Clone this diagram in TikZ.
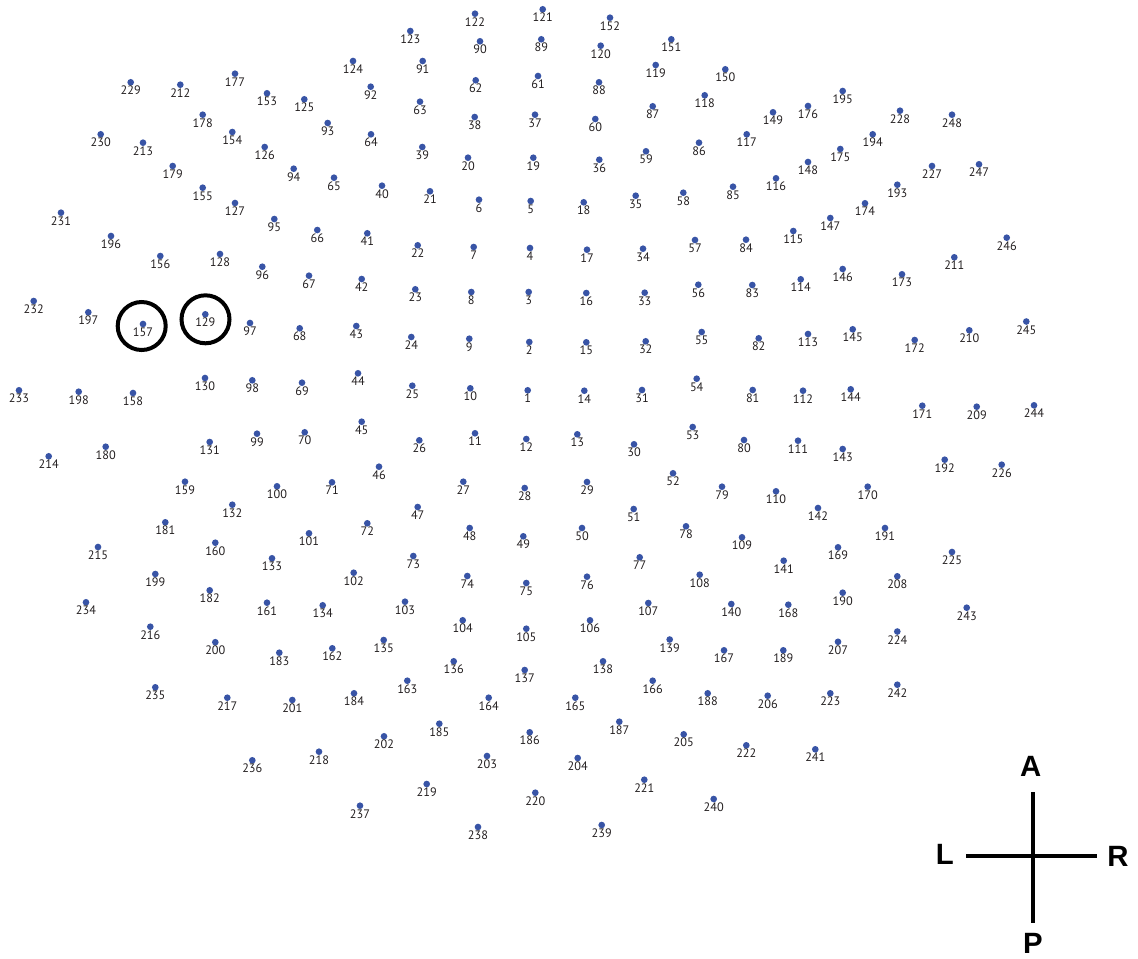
\documentclass[tikz,border=0pt]{standalone}
\usepackage{fontspec}
\newfontfamily\lblfont{PT Sans}
\newfontfamily\axfont{Liberation Sans}
\definecolor{dotblue}{RGB}{56,84,166}
\definecolor{txt}{RGB}{35,31,32}
\begin{document}
\begin{tikzpicture}[x=0.75pt,y=-0.75pt,
  dotnode/.style={circle,fill=dotblue,draw=none,inner sep=0pt,minimum size=5pt},
  lbl/.style={inner sep=0pt,text=txt,font=\lblfont\fontsize{9.2}{10}\selectfont},
  ring/.style={circle,draw=black,line width=3pt,inner sep=0pt,minimum size=36pt},
  axline/.style={line width=3pt,draw=black},
  axlbl/.style={inner sep=0pt,text=black,font=\axfont\bfseries\fontsize{22}{24}\selectfont}]
\useasboundingbox (0,0) rectangle (1138,958);
\foreach \n/\x/\y in {
1/527.7/390.3, 2/529.3/342, 3/528.7/292, 4/530/248, 5/530.7/201, 6/479/199.7, 7/473.7/247, 8/471.3/292, 9/469.3/338.7, 10/470.3/388.3,
11/475/433.3, 12/526.3/439, 13/577.3/434.3, 14/584.3/390.7, 15/586.3/342.3, 16/586.3/293, 17/587/249.7, 18/583.7/202.3, 19/533.3/157.7, 20/468/157.7,
21/430/191.3, 22/417.7/245.3, 23/415.3/289.3, 24/411.3/337, 25/412.3/385.7, 26/419.3/440.3, 27/463.3/481.7, 28/524.7/488, 29/587/482, 30/634/444.3,
31/642/390, 32/645.7/341.3, 33/644.7/292.7, 34/643/248.7, 35/635.7/195.7, 36/599.3/159.7, 37/535/114.7, 38/474.7/117, 39/422.3/147, 40/382/185.7,
41/367.3/233.3, 42/361.7/279, 43/356.3/326, 44/358/373.3, 45/361.7/421.7, 46/379/466.7, 47/417.7/507, 48/469.7/528, 49/523.3/536.3, 50/582/528,
51/633.7/509, 52/673/473.3, 53/692.7/427, 54/696.7/378.7, 55/701.7/332, 56/698.3/284.7, 57/695/240, 58/683.3/192.7, 59/646/151.3, 60/595.3/119,
61/538/76, 62/475.7/80.3, 63/420/101.7, 64/371/134.3, 65/334/177.7, 66/317.3/230, 67/309/275.7, 68/299.7/328.3, 69/302/382.7, 70/304.7/432.3,
71/332/482.3, 72/367.3/523.3, 73/413.3/556, 74/467.3/576, 75/526.3/583, 76/587/576.7, 77/639.7/557.3, 78/686/526.3, 79/722/486.7, 80/744/440,
81/752.7/390, 82/758.7/338.3, 83/752.3/285, 84/746/239.7, 85/733/186.7, 86/699/142.7, 87/652.7/106.3, 88/599/82.3, 89/541.3/39.3, 90/480/41.3,
91/422.7/61, 92/370.7/86.7, 93/327.7/123, 94/293.7/168.7, 95/274.3/219, 96/262.3/266.7, 97/250/323, 98/252.3/380.3, 99/257/433.7, 100/277/486.3,
101/309/533.3, 102/353.7/572.7, 103/405/601.7, 104/462.7/620.3, 105/526.3/628.7, 106/590/620.3, 107/648.3/603, 108/699.7/574.7, 109/742/537.3, 110/776/491.3,
111/798/440.7, 112/803/390.7, 113/808/334, 114/800.7/279.3, 115/793.3/231, 116/776/178.3, 117/746.7/134.3, 118/704.7/95.3, 119/655.7/65, 120/600.7/45.7,
121/542.7/9.3, 122/475/13.7, 123/410.3/31, 124/353/61, 125/304.3/99.3, 126/264.7/147, 127/235/203, 128/220/254, 129/205.3/314.3, 130/205/378,
131/209.7/442, 132/232.3/504.7, 133/272/558.3, 134/322.7/605.3, 135/383.7/640, 136/453.7/661.3, 137/524.7/670, 138/603/661.3, 139/669.7/639.5, 140/731.3/604,
141/783.7/560.7, 142/818/508, 143/842.7/449, 144/850.7/389.3, 145/852.7/329.3, 146/842.7/269, 147/830.3/218, 148/808/162, 149/773/112.3, 150/725.3/69.3,
151/671.3/39.3, 152/610/17.7, 153/267/93.3, 154/232.3/132, 155/202.7/187.7, 156/160.3/256, 157/143/324, 158/133/393, 159/185/481.7, 160/215.3/542.7,
161/267/602.7, 162/332.3/648.3, 163/407.3/680.7, 164/488.7/697.7, 165/575.3/697.7, 166/652.7/680.7, 167/724/650.3, 168/788.3/604.7, 169/838/547.3, 170/867.7/486.7,
171/922.3/405.7, 172/914.7/340, 173/902/274.3, 174/865/203.3, 175/840.3/149, 176/808/106, 177/235/73.7, 178/202.7/114.7, 179/172.7/166, 180/105.7/446.7,
181/165.3/522.3, 182/209.7/590.3, 183/279.3/652.7, 184/354/693.3, 185/439.3/723.7, 186/529.7/732.3, 187/619.3/721.7, 188/707.7/693.3, 189/783.3/650.3, 190/842.7/592.7,
191/885/528, 192/944.7/459.7, 193/897.3/184.7, 194/872.7/134.3, 195/842.7/91, 196/111/236, 197/88.3/312.3, 198/78.7/391.7, 199/155.3/574, 200/215.3/642.2,
201/292.3/700, 202/384/736.3, 203/487/756, 204/577.7/758, 205/683.7/734.3, 206/767.7/695.7, 207/838/641.8, 208/897.3/576.3, 209/976.7/406.7, 210/969.3/330.3,
211/954.3/257.3, 212/180.3/84.7, 213/143/142.7, 214/48.7/456.3, 215/98/547, 216/150.3/626.7, 217/227.3/697.7, 218/319/751.7, 219/426.7/784, 220/535.3/792.7,
221/644.3/779.7, 222/746.3/745.3, 223/830.3/693.3, 224/897.3/631.5, 225/952/552, 226/1001.7/464.7, 227/932/166, 228/900/110.7, 229/130.7/82.3, 230/100.7/134.3,
231/61/212.7, 232/33.7/301, 233/19/390.3, 234/86/602.3, 235/155.3/687.3, 236/252.3/760.3, 237/360/805.7, 238/478/827, 239/601.7/825, 240/713.7/799,
241/815.3/749.3, 242/897.3/684.7, 243/966.7/607.7, 244/1034/405.3, 245/1026.3/321.5, 246/1006.7/237.7, 247/979/164.3, 248/952/114.7}
{
  \node[dotnode] (d\n) at (\x,\y) {};
  \node[lbl,yshift=-6.2pt] (l\n) at (\x,\y) {\n};
}
% highlighted electrodes
\node[ring] (c157) at (141.7,326) {};
\node[ring] (c129) at (205.5,319.3) {};
% orientation cross
\coordinate (ctop) at (1033,792.3);
\coordinate (cbot) at (1033,923.3);
\coordinate (cleft) at (966.3,855.7);
\coordinate (cright) at (1097.3,855.7);
\draw[axline] (ctop) -- (cbot);
\draw[axline] (cleft) -- (cright);
\node[axlbl] (tA) at (1030.7,766.7) {A};
\node[axlbl] (tL) at (944.7,854) {L};
\node[axlbl] (tR) at (1118,856) {R};
\node[axlbl] (tP) at (1033,943.3) {P};
\end{tikzpicture}
\end{document}
